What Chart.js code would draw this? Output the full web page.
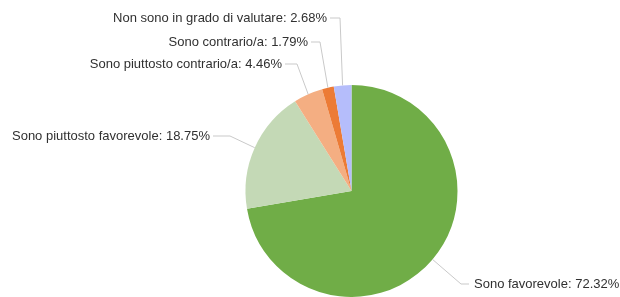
<!DOCTYPE html>
<html>
<head>
<meta charset="utf-8">
<script src="https://cdn.jsdelivr.net/npm/chart.js@4.4.0/dist/chart.umd.min.js"></script>
<style>
    body { margin: 0; background: #fff; }
    #wrap { width: 620px; height: 297px; position: relative; }
</style>
</head>
<body>
<div id="wrap"><canvas id="pieCanvas"></canvas></div>
<script>
// Chart data
const categories = [
    'Sono favorevole',
    'Sono piuttosto favorevole',
    'Sono piuttosto contrario/a',
    'Sono contrario/a',
    'Non sono in grado di valutare'
];
const percentages = [72.32, 18.75, 4.46, 1.79, 2.68];
const sliceColors = ['#70ad47', '#c4d9b6', '#f4ae82', '#ec7b36', '#b5bdfb'];

// Where each label's connector bends (x of elbow, y of label line, horizontal run)
const labelLayout = [
    { x: 461, y: 284, run: 8 },
    { x: 230, y: 136, run: 17 },
    { x: 297, y: 64, run: 12 },
    { x: 320, y: 42, run: 9 },
    { x: 340, y: 18, run: 10 }
];

// Draw outside labels with elbow connectors
const outsideLabels = {
    id: 'outsideLabels',
    afterDatasetsDraw(chart) {
        const ctx = chart.ctx;
        const arcs = chart.getDatasetMeta(0).data;
        ctx.save();
        ctx.font = '13px "Liberation Sans", Arial, sans-serif';
        ctx.textBaseline = 'middle';
        arcs.forEach((arc, i) => {
            const p = arc.getProps(['x', 'y', 'startAngle', 'endAngle', 'outerRadius']);
            const mid = (p.startAngle + p.endAngle) / 2;
            const ex = p.x + Math.cos(mid) * p.outerRadius;
            const ey = p.y + Math.sin(mid) * p.outerRadius;
            const lay = labelLayout[i];
            const right = lay.x > p.x;
            const endX = right ? lay.x + lay.run : lay.x - lay.run;

            ctx.strokeStyle = '#c9c9c9';
            ctx.lineWidth = 1;
            ctx.beginPath();
            ctx.moveTo(ex, ey);
            ctx.lineTo(lay.x, lay.y);
            ctx.lineTo(endX, lay.y);
            ctx.stroke();

            const text = categories[i] + ': ' + percentages[i].toFixed(2) + '%';
            ctx.fillStyle = '#303030';
            ctx.textAlign = right ? 'left' : 'right';
            ctx.fillText(text, right ? endX + 5 : endX - 3, lay.y);
        });
        ctx.restore();
    }
};

new Chart(document.getElementById('pieCanvas'), {
    type: 'pie',
    data: {
        labels: categories,
        datasets: [{
            data: percentages,
            backgroundColor: sliceColors,
            borderWidth: 0
        }]
    },
    options: {
        responsive: true,
        maintainAspectRatio: false,
        animation: false,
        layout: {
            padding: { left: 245.5, right: 162.5, top: 85, bottom: 0 }
        },
        plugins: {
            legend: { display: false },
            tooltip: { enabled: false }
        }
    },
    plugins: [outsideLabels]
});
</script>
</body>
</html>
